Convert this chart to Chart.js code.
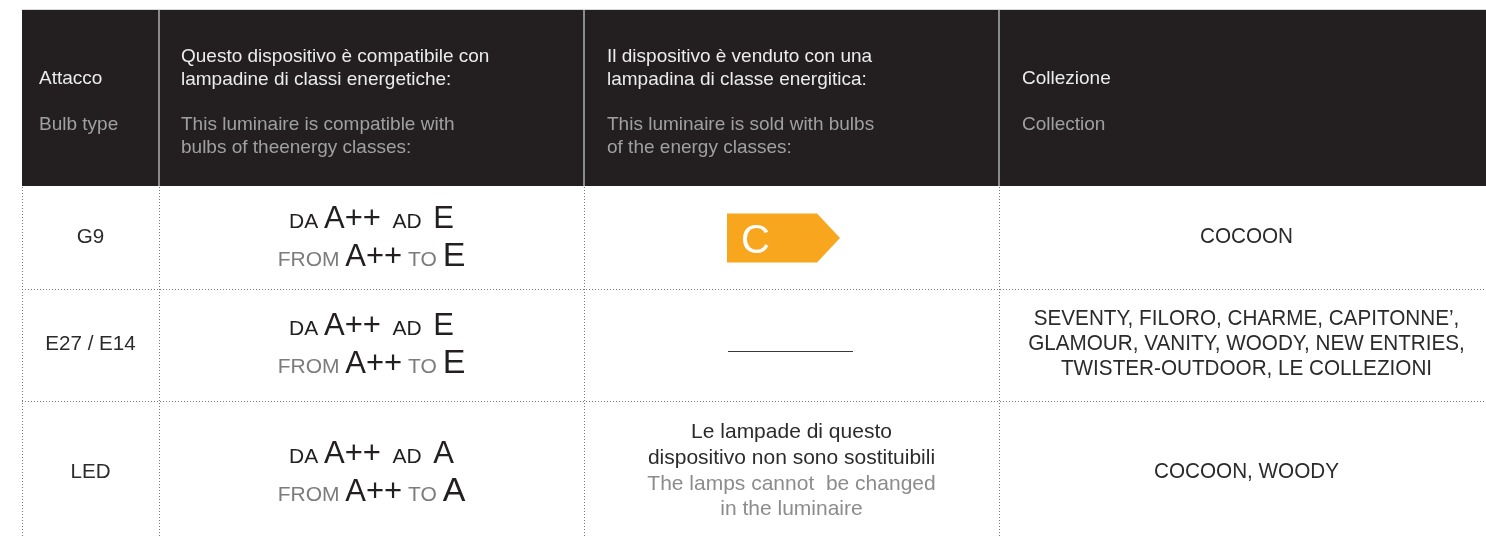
<!DOCTYPE html>
<html>
<head>
<meta charset="utf-8">
<script src="https://cdn.jsdelivr.net/npm/chart.js@4/dist/chart.umd.min.js"></script>
<style>
  html, body { margin: 0; padding: 0; background: #ffffff; }
  #wrap { width: 1486px; height: 536px; position: relative; }
</style>
</head>
<body>
<div id="wrap"><canvas id="c"></canvas></div>
<script>
// ---- table content (data) ----
const headersIT = [
  ["Attacco"],
  ["Questo dispositivo è compatibile con", "lampadine di classi energetiche:"],
  ["Il dispositivo è venduto con una", "lampadina di classe energitica:"],
  ["Collezione"]
];
const headersEN = [
  ["Bulb type"],
  ["This luminaire is compatible with", "bulbs of theenergy classes:"],
  ["This luminaire is sold with bulbs", "of the energy classes:"],
  ["Collection"]
];
const bulbTypes = ["G9", "E27 / E14", "LED"];
const classFrom = ["A++", "A++", "A++"];
const classTo = ["E", "E", "A"];
const soldClass = ["C", "", ""];
const soldNoteIT = [[], [], ["Le lampade di questo", "dispositivo non sono sostituibili"]];
const soldNoteEN = [[], [], ["The lamps cannot  be changed", "in the luminaire"]];
const collections = [
  ["COCOON"],
  ["SEVENTY, FILORO, CHARME, CAPITONNE’,", "GLAMOUR, VANITY, WOODY, NEW ENTRIES,", "TWISTER-OUTDOOR, LE COLLEZIONI"],
  ["COCOON, WOODY"]
];

// ---- layout (table geometry in scale units) ----
const colEdges = [22, 159, 584, 999, 1486];
const headInset = [17, 22, 23, 23];
const headTop = 10, headBottom = 186;
const rowEdges = [187, 289, 401, 545];

const FONT = '"Liberation Sans", Arial, Helvetica, sans-serif';
const DARK = '#231f20';

function fillTxt(ctx, s, x, y, size, color, align, base, sx) {
  ctx.save();
  ctx.font = size + 'px ' + FONT;
  ctx.fillStyle = color;
  ctx.textAlign = align || 'left';
  ctx.textBaseline = base || 'middle';
  ctx.translate(x, y);
  ctx.scale(sx || 1, 1);
  ctx.fillText(s, 0, 0);
  ctx.restore();
}

function richLine(ctx, segs, cx, baseY) {
  ctx.save();
  ctx.textBaseline = 'alphabetic';
  ctx.textAlign = 'left';
  let total = 0;
  const ws = segs.map(s => { ctx.font = s.size + 'px ' + FONT; const w = ctx.measureText(s.t).width; total += w; return w; });
  let x = cx - total / 2;
  segs.forEach((s, i) => {
    ctx.font = s.size + 'px ' + FONT;
    ctx.fillStyle = s.color;
    ctx.fillText(s.t, x, baseY);
    x += ws[i];
  });
  ctx.restore();
}

const tablePlugin = {
  id: 'tablePlugin',
  afterDraw(chart) {
    const ctx = chart.ctx;
    const sx = chart.scales.x, sy = chart.scales.y;
    const X = v => sx.getPixelForValue(v);
    const Y = v => sy.getPixelForValue(v);
    const right = X(colEdges[colEdges.length - 1]);

    // header top hairline
    ctx.save();
    ctx.strokeStyle = '#d8d8d8';
    ctx.lineWidth = 1;
    ctx.beginPath(); ctx.moveTo(X(colEdges[0]), Y(headTop) - 0.5); ctx.lineTo(right, Y(headTop) - 0.5); ctx.stroke();
    // header block
    ctx.fillStyle = DARK;
    ctx.fillRect(X(colEdges[0]), Y(headTop), right - X(colEdges[0]), Y(headBottom) - Y(headTop));
    // header dividers
    ctx.strokeStyle = '#a6a6a6';
    ctx.lineWidth = 1.6;
    for (let i = 1; i < colEdges.length - 1; i++) {
      ctx.beginPath(); ctx.moveTo(X(colEdges[i]), Y(headTop)); ctx.lineTo(X(colEdges[i]), Y(headBottom)); ctx.stroke();
    }
    ctx.restore();

    // header texts
    for (let c = 0; c < headersIT.length; c++) {
      const x0 = X(colEdges[c]) + headInset[c];
      const it = headersIT[c], en = headersEN[c];
      if (it.length === 1) {
        fillTxt(ctx, it[0], x0, Y(79), 19, '#ececec');
        fillTxt(ctx, en[0], x0, Y(125), 19, '#a0a0a0');
      } else {
        fillTxt(ctx, it[0], x0, Y(57), 19, '#ececec');
        fillTxt(ctx, it[1], x0, Y(80), 19, '#ececec');
        fillTxt(ctx, en[0], x0, Y(125), 19, '#a0a0a0');
        fillTxt(ctx, en[1], x0, Y(148), 19, '#a0a0a0');
      }
    }

    // dotted grid
    ctx.save();
    ctx.strokeStyle = '#7a7a7a';
    ctx.lineWidth = 1;
    ctx.setLineDash([1, 2]);
    for (let i = 0; i < colEdges.length - 1; i++) {
      const x = Math.round(X(colEdges[i])) + 0.5;
      ctx.beginPath(); ctx.moveTo(x, Y(rowEdges[0])); ctx.lineTo(x, Y(rowEdges[rowEdges.length - 1])); ctx.stroke();
    }
    for (let r = 1; r < rowEdges.length - 1; r++) {
      const y = Math.round(Y(rowEdges[r])) + 0.5;
      ctx.beginPath(); ctx.moveTo(X(colEdges[0]), y); ctx.lineTo(right, y); ctx.stroke();
    }
    ctx.restore();

    // rows
    for (let r = 0; r < bulbTypes.length; r++) {
      const cy = (rowEdges[r] + rowEdges[r + 1]) / 2;
      const c1 = (X(colEdges[0]) + X(colEdges[1])) / 2;
      const c2 = (X(colEdges[1]) + X(colEdges[2])) / 2;
      const c3 = (X(colEdges[2]) + X(colEdges[3])) / 2;
      const c4 = (X(colEdges[3]) + X(colEdges[4])) / 2;

      fillTxt(ctx, bulbTypes[r], c1, Y(cy - 1), 21, '#2b2b2b', 'center', 'middle', 0.98);

      richLine(ctx, [
        { t: 'DA ', size: 21, color: DARK },
        { t: classFrom[r], size: 31, color: DARK },
        { t: '  AD  ', size: 21, color: DARK },
        { t: classTo[r], size: 31, color: DARK }
      ], c2, Y(cy - 10));
      richLine(ctx, [
        { t: 'FROM ', size: 21, color: '#7c7c7c' },
        { t: classFrom[r], size: 31, color: DARK },
        { t: ' TO ', size: 21, color: '#7c7c7c' },
        { t: classTo[r], size: 34, color: DARK }
      ], c2, Y(cy + 28));

      // column 3
      if (soldClass[r]) {
        const l = X(727), t = Y(cy - 24.5), b = Y(cy + 24.5), n = X(817), tip = X(840);
        ctx.save();
        ctx.fillStyle = '#f8a61e';
        ctx.beginPath();
        ctx.moveTo(l, t); ctx.lineTo(n, t); ctx.lineTo(tip, (t + b) / 2); ctx.lineTo(n, b); ctx.lineTo(l, b);
        ctx.closePath(); ctx.fill();
        ctx.restore();
        fillTxt(ctx, soldClass[r], X(741), Y(cy + 15), 40, '#ffffff', 'left', 'alphabetic');
      } else if (soldNoteIT[r].length) {
        const lines = soldNoteIT[r].concat(soldNoteEN[r]);
        const nIT = soldNoteIT[r].length;
        const step = 25.7;
        const start = cy - 2 - step * (lines.length - 1) / 2;
        lines.forEach((s, i) => fillTxt(ctx, s, c3, Y(start + i * step), 21, i < nIT ? '#2b2b2b' : '#8c8c8c', 'center', 'middle', 1.0));
      } else {
        ctx.save();
        ctx.strokeStyle = '#3a3a3a';
        ctx.lineWidth = 1.2;
        ctx.beginPath(); ctx.moveTo(X(728), Y(cy + 6) + 0.5); ctx.lineTo(X(853), Y(cy + 6) + 0.5); ctx.stroke();
        ctx.restore();
      }

      // column 4
      const col = collections[r];
      const step4 = 25;
      const s4 = cy - 1 - step4 * (col.length - 1) / 2;
      col.forEach((s, i) => fillTxt(ctx, s, c4 + 4, Y(s4 + i * step4), 22, '#2b2b2b', 'center', 'middle', 0.94));
    }
  }
};

new Chart(document.getElementById('c'), {
  type: 'scatter',
  data: { datasets: [{ data: [], pointRadius: 0 }] },
  options: {
    responsive: true,
    maintainAspectRatio: false,
    animation: false,
    events: [],
    layout: { padding: 0 },
    plugins: { legend: { display: false }, tooltip: { enabled: false } },
    scales: {
      x: { type: 'linear', min: 0, max: 1486, display: false },
      y: { type: 'linear', min: 0, max: 536, reverse: true, display: false }
    }
  },
  plugins: [tablePlugin]
});
</script>
</body>
</html>
